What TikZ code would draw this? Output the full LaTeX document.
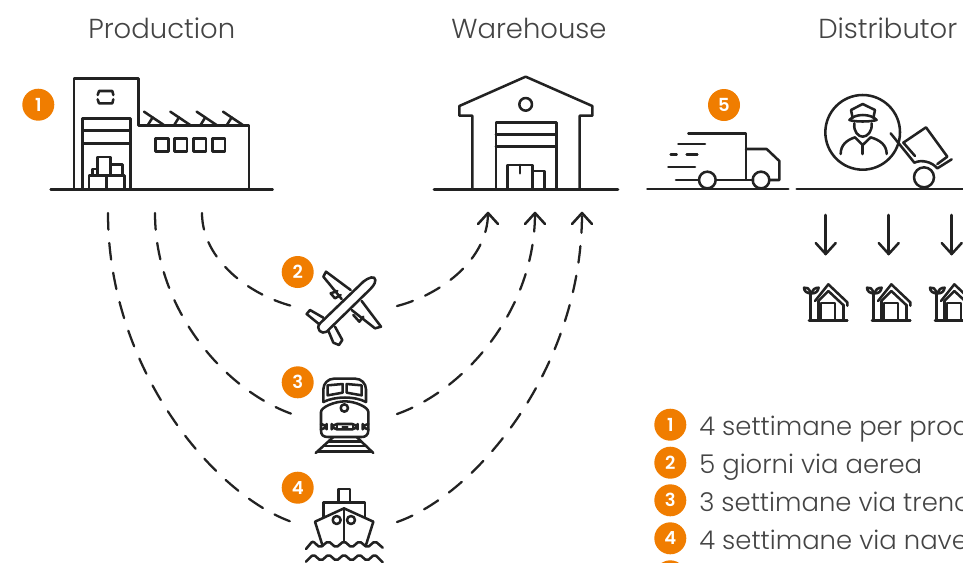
\documentclass[tikz,border=0pt]{standalone}
\usepackage{fontspec}
\setmainfont{Poppins}[UprightFont=* Light,BoldFont=* SemiBold]
\definecolor{ink}{HTML}{222222}
\definecolor{txt}{HTML}{444444}
\definecolor{orng}{HTML}{F07D00}
\tikzset{
 icon/.style={draw=ink,line width=1.9pt,line join=round,line cap=round},
 dashline/.style={draw=ink,line width=1.7pt,line cap=round,dash pattern=on 12.5pt off 10pt},
 badge/.style={circle,fill=orng,minimum size=24pt,inner sep=0pt,text=white,font=\fontsize{13.5}{13.5}\selectfont\bfseries},
 headtext/.style={text=txt,font=\fontsize{20.6}{24}\selectfont,anchor=base west,inner sep=0pt},
 legtext/.style={text=txt,font=\fontsize{19.4}{23}\selectfont,anchor=base west,inner sep=0pt},
 zm/.style={shift={#1},x=.25pt,y=-.25pt}
}
\newcommand{\housepic}[1]{%
 \begin{scope}[zm={(#1,205)},icon]
  \draw (57,347)--(172,347);
  \draw (62,262)--(62,347);
  \draw (62,265)..controls (58,250) and (50,245) ..(42,248)..controls (42,258) and (50,265) ..(62,265);
  \draw (65,265)..controls (68,252) and (76,248) ..(86,248)..controls (84,260) and (76,266) ..(65,265);
  \draw (75,288)--(115,238)--(172,292)--(172,302);
  \draw (85,288)--(115,258)--(162,302);
  \draw (85,288)--(85,347) (160,302)--(160,347);
  \draw (93,347)--(93,294)--(135,294)--(135,347);
 \end{scope}}
\begin{document}
\begin{tikzpicture}[x=.75pt,y=-.75pt]
\useasboundingbox (0,0) rectangle (963,562);
\clip (0,0) rectangle (963,562);
% titles
\node[headtext] (tprod) at (88,38) {Production};
\node[headtext] (tware) at (451,38) {Warehouse};
\node[headtext] (tdist) at (818,38) {Distributor};
% factory
\begin{scope}[zm={(10,60)},icon]
 \draw (122,388)--(788,388);
 \draw (192,388)--(192,55)--(386,55)--(386,196)--(717,196)--(717,388);
 \draw (217,388)--(217,175)--(361,175)--(361,388);
 \draw (217,212)--(361,212) (217,250)--(361,250);
 \draw (237,388)--(237,347)--(343,347)--(343,388) (289,347)--(289,388);
 \draw (263,347)--(263,291)--(302,291)--(302,347);
 \draw (302,314)--(338,314)--(338,347);
 \draw (248,347)--(248,327)--(263,327);
 \draw (263,105)--(267,93)--(307,93)--(310,105);
 \draw (263,118)--(267,130)--(307,130)--(310,118);
 \foreach \w in {437,493,550,607}{\draw (\w,235) rectangle ++(38,40);}
 \foreach \s in {0,79,158,237}{
  \draw (402+\s,155)--(463+\s,196);
  \draw (428+\s,172)--(413+\s,196);}
\end{scope}
% warehouse
\begin{scope}[zm={(420,60)},icon]
 \draw (42,388)--(594,388);
 \draw (157,388)--(157,167)--(118,167)--(118,138)--(317,50)--(517,138)--(517,167)--(479,167)--(479,388);
 \draw (317,133) circle[radius=19];
 \draw (228,388)--(228,187)--(409,187)--(409,388);
 \draw (228,224)--(409,224) (228,260)--(409,260);
 \draw (263,388)--(263,315)--(338,315)--(338,388);
 \draw (300,315)--(300,340);
 \draw (338,333)--(373,333)--(373,388);
\end{scope}
% truck
\begin{scope}[zm={(640,80)},icon]
 \draw (22,327)--(445,327) (470,327)--(969,327);
 \draw (145,160)--(318,160)--(318,298);
 \draw (318,207)--(380,207)--(418,243)--(418,300)--(388,300);
 \draw (228,300)--(340,300) (108,300)--(177,300);
 \draw (202,300) circle[radius=25] (363,300) circle[radius=25];
 \draw (115,192)--(195,192) (92,223)--(110,223) (140,223)--(172,223) (85,261)--(165,261);
\end{scope}
% driver and hand truck
\begin{scope}[zm={(820,90)},icon]
 \draw (128,127) circle[radius=112];
 \draw (98,84)--(93,60)--(128,42)--(165,60)--(160,84);
 \draw (88,90)..controls (105,70) and (152,70) ..(170,90)..controls (150,96) and (105,96) ..(88,90)--cycle;
 \draw (103,100)..controls (100,125) and (115,140) ..(128,140)..controls (142,140) and (157,125) ..(155,100);
 \draw (62,192)..controls (62,165) and (80,150) ..(105,142)--(128,165)--(152,142)..controls (180,150) and (200,165) ..(200,192);
 \draw (128,165)--(128,192);
 \draw (212,130)--(283,218)..controls (305,208) and (335,215) ..(352,235)--(395,208);
 \draw (250,158)--(318,112)--(382,200)--(352,222);
 \draw (250,158)--(285,198);
 \draw (312,262) circle[radius=30];
\end{scope}
% houses
\housepic{790}\housepic{853}\housepic{916}
% distributor arrows
\foreach \n/\x in {a/825.7,b/888.7,c/951.7}{
 \coordinate (top\n) at (\x,215);
 \coordinate (tip\n) at (\x,254);
 \draw[icon] (top\n)--(tip\n);
 \draw[icon] ([shift={(-10,-11)}]tip\n)--(tip\n)--([shift={(10,-11)}]tip\n);
}
% plane
\begin{scope}[zm={(300,265)},icon]
 \draw (60,175)--(190,50)..controls (205,38) and (225,30) ..(226,45)..controls (226,58) and (215,68) ..(205,78)--(80,200)..controls (65,210) and (45,192) ..(60,175);
 \draw (152,75)--(78,20)--(70,35)--(125,102);
 \draw (185,108)--(243,185)--(225,190)--(155,135);
 \draw (112,78)--(92,85)--(105,100)--(122,90);
 \draw (160,150)--(178,170)--(190,155);
 \draw (70,158)--(30,135)--(20,147)--(58,178);
 \draw (85,197)--(100,233)--(117,240)--(127,225)--(105,185);
\end{scope}
% train
\begin{scope}[zm={(305,372)},icon]
 \draw[rounded corners=8pt] (55,90)--(55,20)--(183,20)--(183,90);
 \draw (68,40)--(113,36)--(113,62)--(68,70)--cycle;
 \draw (125,36)--(170,40)--(170,70)--(125,62)--cycle;
 \draw (55,90)..controls (90,72) and (150,72) ..(183,90);
 \draw (48,175)--(48,120)..controls (48,105) and (90,88) ..(120,88)..controls (150,88) and (190,105) ..(190,120)--(190,175)..controls (190,190) and (180,195) ..(170,195)--(70,195)..controls (55,195) and (48,190) ..(48,175);
 \draw (118,108) circle[radius=11];
 \draw[rounded corners=4pt] (48,156)--(65,156)--(65,172)--(48,172);
 \draw[rounded corners=4pt] (190,156)--(173,156)--(173,172)--(190,172);
 \draw[rounded corners=4pt] (80,156) rectangle (158,172);
 \draw[line width=1.3pt] (95,156)--(95,172) (112,164)--(128,164) (143,156)--(143,172);
 \draw (32,243)--(85,195) (205,243)--(155,195);
 \draw (72,208)--(168,208) (56,222)--(184,222) (40,238)--(198,238);
\end{scope}
% ship
\begin{scope}[zm={(270,465)},icon]
 \draw (205,112)--(205,72)--(240,72)--(240,112);
 \draw (160,155)--(160,112)--(285,112)--(285,155);
 \draw (158,243)--(135,170)--(222,130)--(310,170)--(287,243);
 \draw (222,130)--(222,228);
 \draw (200,165) circle[radius=12] (243,165) circle[radius=12];
 \draw[rounded corners=1.5pt] (108,252)--(128,228)--(150,248)--(175,228)--(198,248)--(222,228)--(245,248)--(268,228)--(292,248)--(315,228)--(338,248);
 \draw[rounded corners=1.5pt] (108,290)--(130,268)--(153,288)--(176,268)--(199,288)--(222,268)--(245,288)--(268,268)--(291,288)--(314,268)--(338,292);
\end{scope}
% dashed routes
\coordinate (pa) at (108,213);\coordinate (pb) at (155,213);\coordinate (pc) at (202,213);
\coordinate (wa) at (582,213);\coordinate (wb) at (535,213);\coordinate (wc) at (488,213);
\coordinate (planeL) at (292,306);\coordinate (planeR) at (397,306);
\coordinate (trainL) at (292,414);\coordinate (trainR) at (397,414);
\coordinate (shipL) at (292,522);\coordinate (shipR) at (397,522);
\draw[dashline] (pa)..controls (108,370) and (215,495) ..(shipL);
\draw[dashline] (pb)..controls (155,310) and (225,390) ..(trainL);
\draw[dashline] (pc)..controls (202,260) and (250,295) ..(planeL);
\draw[dashline] (shipR)..controls (475,495) and (582,370) ..(wa);
\draw[dashline] (trainR)..controls (465,390) and (535,310) ..(wb);
\draw[dashline] (planeR)..controls (440,295) and (488,260) ..(wc);
\foreach \p in {wa,wb,wc}{\draw[icon] ([shift={(-10,11)}]\p)--(\p)--([shift={(10,11)}]\p);}
% badges
\node[badge] (b1) at (38.3,104.7) {1};
\node[badge] (b2) at (297.7,272) {2};
\node[badge] (b3) at (297.7,382.3) {3};
\node[badge] (b4) at (297.7,487.7) {4};
\node[badge] (b5) at (724,105) {5};
% legend
\node[badge] (l1) at (670.3,424.7) {1};
\node[badge] (l2) at (670.3,462.7) {2};
\node[badge] (l3) at (670.3,500.3) {3};
\node[badge] (l4) at (670.3,538.3) {4};
\node[badge] (l5) at (670.3,576.3) {};
\node[legtext] (t1) at (699,435) {4 settimane per produzione};
\node[legtext] (t2) at (699,473) {5 giorni via aerea};
\node[legtext] (t3) at (699,511) {3 settimane via treno};
\node[legtext] (t4) at (699,549) {4 settimane via nave};
\end{tikzpicture}
\end{document}
